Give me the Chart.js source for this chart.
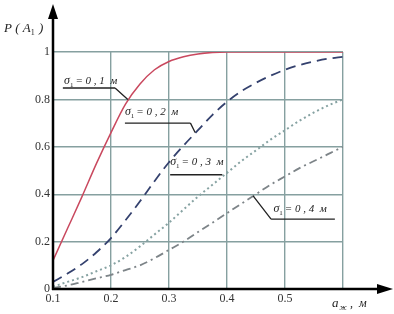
<!DOCTYPE html>
<html>
<head>
<meta charset="utf-8">
<script src="https://cdn.jsdelivr.net/npm/chart.js@4"></script>
<style>
html,body{margin:0;padding:0;background:#fff;}
canvas{display:block;}
</style>
</head>
<body>
<canvas id="c" width="394" height="314"></canvas>
<script>
// ---- data ----
const xs   = [0.1,0.125,0.15,0.175,0.2,0.225,0.25,0.275,0.3,0.325,0.35,0.375,0.4,0.425,0.45,0.475,0.5,0.525,0.55,0.575,0.6];
const p01  = [0.12,0.255,0.39,0.53,0.66,0.78,0.865,0.925,0.96,0.98,0.992,0.998,1,1,1,1,1,1,1,1,1];
const p02  = [0.03,0.065,0.105,0.155,0.215,0.29,0.37,0.455,0.535,0.605,0.67,0.735,0.79,0.835,0.87,0.90,0.925,0.945,0.96,0.972,0.98];
const p03  = [0.01,0.03,0.05,0.075,0.10,0.135,0.18,0.23,0.28,0.335,0.39,0.44,0.49,0.54,0.585,0.63,0.67,0.71,0.745,0.775,0.80];
const p04  = [0.005,0.015,0.03,0.045,0.06,0.08,0.10,0.13,0.165,0.20,0.24,0.28,0.32,0.36,0.40,0.44,0.475,0.51,0.54,0.57,0.60];
const seriesLabels = ['0,1','0,2','0,3','0,4'];
const xTicks = [0.1,0.2,0.3,0.4,0.5];
const yTicks = [0,0.2,0.4,0.6,0.8,1];

const pts = arr => xs.map((x,i)=>({x, y:arr[i]}));
const SERIF = '"Liberation Serif","DejaVu Serif",serif';

// annotation placements (data coords): text start, underline ends, leader end
const notes = [
  {s:0, tx:0.119, ty:0.865, u1:0.117, u2:0.207, uy:0.848, lx:0.229, ly:0.80},
  {s:1, tx:0.224, ty:0.735, u1:0.224, u2:0.337, uy:0.700, lx:0.345, ly:0.66},
  {s:2, tx:0.302, ty:0.525, u1:0.302, u2:0.392, uy:0.482, lx:null},
  {s:3, tx:0.48, ty:0.325, u1:0.476, u2:0.586, uy:0.295, lx:0.445, ly:0.393}
];

const decor = {
  id:'decor',
  afterDraw(chart){
    const {ctx, chartArea:a, scales:{x,y}} = chart;
    ctx.save();
    // axes with arrows
    ctx.strokeStyle='#000'; ctx.fillStyle='#000'; ctx.lineWidth=2.5;
    ctx.beginPath(); ctx.moveTo(a.left, a.bottom+1); ctx.lineTo(a.left, 16); ctx.stroke();
    ctx.beginPath(); ctx.moveTo(a.left,4); ctx.lineTo(a.left-5,19); ctx.lineTo(a.left+5,19); ctx.closePath(); ctx.fill();
    ctx.beginPath(); ctx.moveTo(a.left-1, a.bottom); ctx.lineTo(380, a.bottom); ctx.stroke();
    ctx.beginPath(); ctx.moveTo(393,a.bottom); ctx.lineTo(377,a.bottom-5); ctx.lineTo(377,a.bottom+5); ctx.closePath(); ctx.fill();

    // axis titles
    ctx.fillStyle='#222'; ctx.textBaseline='alphabetic'; ctx.textAlign='left';
    ctx.font='italic 13px '+SERIF;
    let px=4, py=32;
    ctx.fillText('P ( A', px, py); px+=ctx.measureText('P ( A').width;
    ctx.font='8px '+SERIF; ctx.fillText('1', px, py+3); px+=ctx.measureText('1').width+1;
    ctx.font='italic 13px '+SERIF; ctx.fillText(' )', px, py);

    px=332; py=307;
    ctx.font='italic 13px '+SERIF; ctx.fillText('a', px, py); px+=ctx.measureText('a').width+1;
    ctx.font='italic 8px '+SERIF; ctx.fillText('ж', px, py+3); px+=ctx.measureText('ж').width+3;
    ctx.font='italic 12px '+SERIF; ctx.fillText(',  м', px, py);

    // annotations
    ctx.strokeStyle='#222'; ctx.lineWidth=1.3;
    notes.forEach(n=>{
      let tx=x.getPixelForValue(n.tx), ty=y.getPixelForValue(n.ty);
      ctx.fillStyle='#222';
      ctx.font='italic 12px '+SERIF; ctx.fillText('σ', tx, ty); tx+=ctx.measureText('σ').width;
      ctx.font='7px '+SERIF; ctx.fillText('1', tx, ty+3); tx+=ctx.measureText('1').width+2;
      ctx.font='italic 11px '+SERIF;
      ctx.fillText('= ' + seriesLabels[n.s].replace(',', ' , ') + '  м', tx, ty);
      const uy=y.getPixelForValue(n.uy);
      const u1=x.getPixelForValue(n.u1), u2=x.getPixelForValue(n.u2);
      ctx.beginPath(); ctx.moveTo(u1,uy); ctx.lineTo(u2,uy);
      if(n.lx!==null){
        const lx=x.getPixelForValue(n.lx), ly=y.getPixelForValue(n.ly);
        if(n.s===3){ ctx.moveTo(u1,uy); ctx.lineTo(lx,ly); }
        else { ctx.moveTo(u2,uy); ctx.lineTo(lx,ly); }
      }
      ctx.stroke();
    });
    ctx.restore();
  }
};

const gridColor='#86a0a0';
const common = {pointRadius:0, cubicInterpolationMode:'monotone'};
new Chart(document.getElementById('c'), {
  type:'line',
  data:{datasets:[
    Object.assign({data:pts(p01), borderColor:'#c9485e', borderWidth:1.5}, common),
    Object.assign({data:pts(p02), borderColor:'#34416e', borderWidth:1.8, borderDash:[10,6]}, common),
    Object.assign({data:pts(p03), borderColor:'#86a2a2', borderWidth:2, borderDash:[2,3]}, common),
    Object.assign({data:pts(p04), borderColor:'#7d8488', borderWidth:1.8, borderDash:[8,4,2,4]}, common)
  ]},
  options:{
    responsive:false, animation:false, devicePixelRatio:1,
    layout:{padding:{left:0,right:51,top:52,bottom:0}},
    plugins:{legend:{display:false}, tooltip:{enabled:false}},
    scales:{
      x:{type:'linear', min:0.1, max:0.6,
        afterBuildTicks(s){ s.ticks = xTicks.concat([0.6]).map(v=>({value:v})); },
        ticks:{callback:v=> xTicks.includes(Math.round(v*10)/10) ? v.toFixed(1) : '',
          font:{family:SERIF,size:12}, color:'#333', padding:3, maxRotation:0, autoSkip:false},
        grid:{color:gridColor, lineWidth:1.4, drawTicks:false},
        border:{display:false},
        afterFit(s){ s.height=25; }
      },
      y:{min:0, max:1,
        afterBuildTicks(s){ s.ticks = yTicks.map(v=>({value:v})); },
        ticks:{callback:v=> (v===0||v===1)? String(v) : v.toFixed(1),
          font:{family:SERIF,size:12}, color:'#333', padding:3},
        grid:{color:gridColor, lineWidth:1.4, drawTicks:false},
        border:{display:false},
        afterFit(s){ s.height; s.width=53; }
      }
    }
  },
  plugins:[decor]
});
</script>
</body>
</html>
